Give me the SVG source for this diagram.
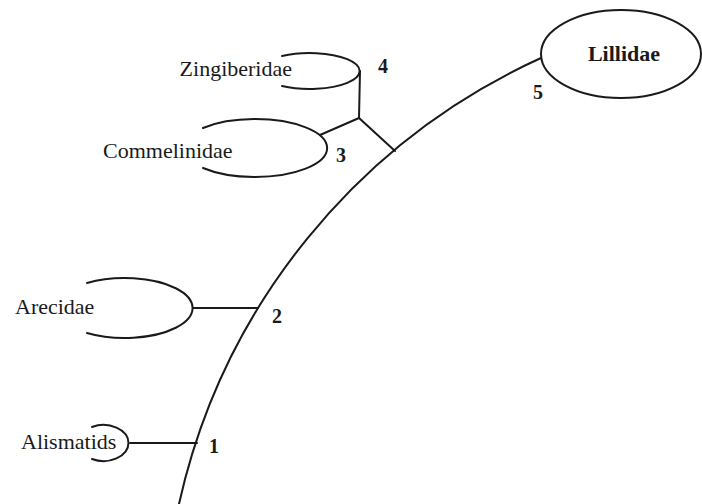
<svg xmlns="http://www.w3.org/2000/svg" width="702" height="504" viewBox="0 0 702 504">
<style>
.ln{fill:none;stroke:#1a1a1a;stroke-width:2;stroke-linecap:round}
.lb{font-family:"Liberation Serif","Times New Roman",serif;font-size:22px;fill:#1a1a1a}
.num{font-family:"Liberation Serif","Times New Roman",serif;font-size:20px;fill:#1a1a1a;font-weight:bold}
</style>
<rect width="702" height="504" fill="#ffffff"/>
<g id="connectors">
<path class="ln" d="M179,504 A643,643 0 0 1 541,58"/>
<path class="ln" d="M360,71 L359,118"/>
<path class="ln" d="M320,135 L359,118 L395,151"/>
<path class="ln" d="M193,308 L258,308"/>
<path class="ln" d="M130,443 L197,443"/>
</g>
<g id="lillidae">
<ellipse class="ln" cx="621" cy="54" rx="80" ry="44"/>
<text class="lb" x="624" y="61" text-anchor="middle" font-weight="bold" font-size="21">Lillidae</text>
<text class="num" x="533" y="99">5</text>
</g>
<g id="zingiberidae">
<path class="ln" d="M282,56 A50,18 0 1 1 282,86"/>
<text class="lb" x="292" y="76" text-anchor="end">Zingiberidae</text>
<text class="num" x="378" y="73">4</text>
</g>
<g id="commelinidae">
<path class="ln" d="M203,128 A72,29 0 1 1 203,168"/>
<text class="lb" x="103" y="158">Commelinidae</text>
<text class="num" x="336" y="162">3</text>
</g>
<g id="arecidae">
<path class="ln" d="M87,283 A68,30 0 1 1 87,333"/>
<text class="lb" x="15" y="314">Arecidae</text>
<text class="num" x="272" y="323">2</text>
</g>
<g id="alismatids">
<path class="ln" d="M92,427 A25,18 0 1 1 92,459"/>
<text class="lb" x="21" y="449">Alismatids</text>
<text class="num" x="209" y="453">1</text>
</g>
</svg>
